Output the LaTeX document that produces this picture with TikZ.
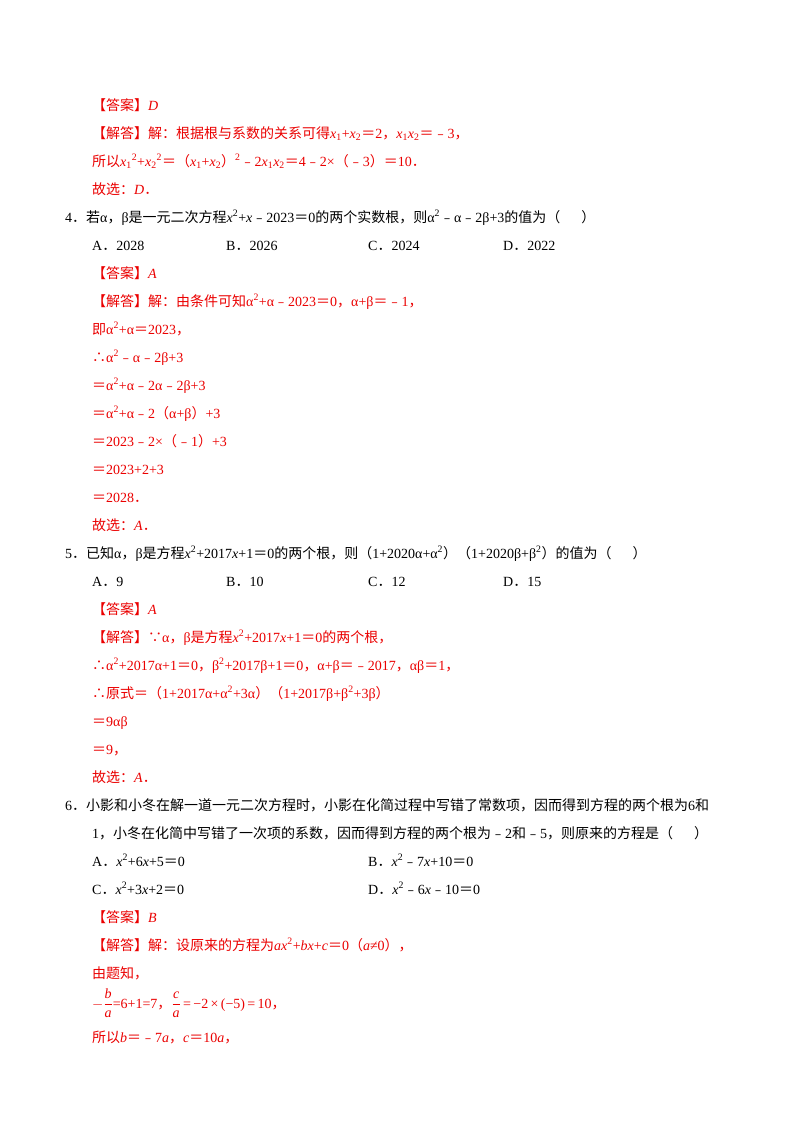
\documentclass[tikz,border=0pt]{standalone}
\usepackage{fontspec}
\setmainfont{Liberation Serif}
\newfontfamily\cjk{Noto Sans CJK SC}
\newfontfamily\latinf{Liberation Serif}
\XeTeXinterchartokenstate=1
\newXeTeXintercharclass\CJKcls
\newcount\cc
\def\setcls#1#2{\cc=#1 \loop \XeTeXcharclass\cc=\CJKcls \ifnum\cc<#2 \advance\cc 1 \repeat}
\setcls{"4E00}{"9FFF}
\setcls{"3000}{"303F}
\setcls{"FF00}{"FFEF}
\setcls{"FE50}{"FE6F}
\XeTeXcharclass"2234=\CJKcls
\XeTeXcharclass"2235=\CJKcls
\XeTeXinterchartoks 0 \CJKcls={\cjk}
\XeTeXinterchartoks 4095 \CJKcls={\cjk}
\XeTeXinterchartoks \CJKcls 0={\latinf}
\XeTeXinterchartoks 4095 0={\latinf}
\definecolor{ansred}{RGB}{235,0,0}
\newcommand{\ti}[1]{\textit{\latinf #1}}
\newcommand{\vx}{\ti{x}}
\newcommand{\av}{\ti{a}}
\newcommand{\sbs}[1]{\textsubscript{\latinf #1}}
\newcommand{\sps}[1]{\textsuperscript{\latinf #1}}
\begin{document}
\begin{tikzpicture}[x=1pt,y=1pt,
  every node/.style={anchor=base west,inner sep=0pt,font=\fontsize{14}{16}\selectfont},
  red/.style={text=ansred},blk/.style={text=black}]
\useasboundingbox (0,0) rectangle (800,-1132);
\fill[white] (0,0) rectangle (800,-1132);
\node[red] (l1) at (92,-110) {【答案】\ti{D}};
\node[red] (l2) at (92,-138) {【解答】解：根据根与系数的关系可得\vx\sbs{1}+\vx\sbs{2}＝2，\vx\sbs{1}\vx\sbs{2}＝﹣3，};
\node[red] (l3) at (92,-166) {所以\vx\sbs{1}\sps{2}+\vx\sbs{2}\sps{2}＝（\vx\sbs{1}+\vx\sbs{2}）\sps{2}﹣2\vx\sbs{1}\vx\sbs{2}＝4﹣2×（﹣3）＝10．};
\node[red] (l4) at (92,-194) {故选：\ti{D}．};
\node[blk] (l5) at (65,-222) {4．若α，β是一元二次方程\vx\sps{2}+\vx﹣2023＝0的两个实数根，则α\sps{2}﹣α﹣2β+3的值为（\quad\enspace）};
\node[blk] (l6a) at (92,-250) {A．2028};
\node[blk] (l6b) at (226,-250) {B．2026};
\node[blk] (l6c) at (368,-250) {C．2024};
\node[blk] (l6d) at (503,-250) {D．2022};
\node[red] (l7) at (92,-278) {【答案】\ti{A}};
\node[red] (l8) at (92,-306) {【解答】解：由条件可知α\sps{2}+α﹣2023＝0，α+β＝﹣1，};
\node[red] (l9) at (92,-334) {即α\sps{2}+α＝2023，};
\node[red] (l10) at (92,-362) {∴α\sps{2}﹣α﹣2β+3};
\node[red] (l11) at (92,-390) {＝α\sps{2}+α﹣2α﹣2β+3};
\node[red] (l12) at (92,-418) {＝α\sps{2}+α﹣2（α+β）+3};
\node[red] (l13) at (92,-446) {＝2023﹣2×（﹣1）+3};
\node[red] (l14) at (92,-474) {＝2023+2+3};
\node[red] (l15) at (92,-502) {＝2028．};
\node[red] (l16) at (92,-530) {故选：\ti{A}．};
\node[blk] (l17) at (65,-558) {5．已知α，β是方程\vx\sps{2}+2017\vx+1＝0的两个根，则（1+2020α+α\sps{2}）（1+2020β+β\sps{2}）的值为（\quad\enspace）};
\node[blk] (l18a) at (92,-586) {A．9};
\node[blk] (l18b) at (226,-586) {B．10};
\node[blk] (l18c) at (368,-586) {C．12};
\node[blk] (l18d) at (503,-586) {D．15};
\node[red] (l19) at (92,-614) {【答案】\ti{A}};
\node[red] (l20) at (92,-642) {【解答】∵α，β是方程\vx\sps{2}+2017\vx+1＝0的两个根，};
\node[red] (l21) at (92,-670) {∴α\sps{2}+2017α+1＝0，β\sps{2}+2017β+1＝0，α+β＝﹣2017，αβ＝1，};
\node[red] (l22) at (92,-698) {∴原式＝（1+2017α+α\sps{2}+3α）（1+2017β+β\sps{2}+3β）};
\node[red] (l23) at (92,-726) {＝9αβ};
\node[red] (l24) at (92,-754) {＝9，};
\node[red] (l25) at (92,-782) {故选：\ti{A}．};
\node[blk] (l26) at (65,-810) {6．小影和小冬在解一道一元二次方程时，小影在化简过程中写错了常数项，因而得到方程的两个根为{\latinf 6}和};
\node[blk] (l27) at (92,-838) {{\latinf 1}，小冬在化简中写错了一次项的系数，因而得到方程的两个根为﹣2和﹣5，则原来的方程是（\quad\enspace）};
\node[blk] (l28a) at (92,-866) {A．\vx\sps{2}+6\vx+5＝0};
\node[blk] (l28b) at (368,-866) {B．\vx\sps{2}﹣7\vx+10＝0};
\node[blk] (l29a) at (92,-894) {C．\vx\sps{2}+3\vx+2＝0};
\node[blk] (l29b) at (368,-894) {D．\vx\sps{2}﹣6\vx﹣10＝0};
\node[red] (l30) at (92,-922) {【答案】\ti{B}};
\node[red] (l31) at (92,-950) {【解答】解：设原来的方程为\av\vx\sps{2}+\ti{b}\vx+\ti{c}＝0（\av≠0），};
\node[red] (l32) at (92,-978) {由题知，};
\node[red] (l33) at (92,-1008) {$\displaystyle -\frac{\hbox{\ti{b}}}{\hbox{\ti{a}}}$\hbox{\latinf =6+1=7}，$\displaystyle\frac{\hbox{\ti{c}}}{\hbox{\ti{a}}}$\hbox{\latinf\,=\,−2\,×\,(−5)\,=\,10}，};
\node[red] (l34) at (92,-1042) {所以\ti{b}＝﹣7\av，\ti{c}＝10\av，};
\end{tikzpicture}
\end{document}
